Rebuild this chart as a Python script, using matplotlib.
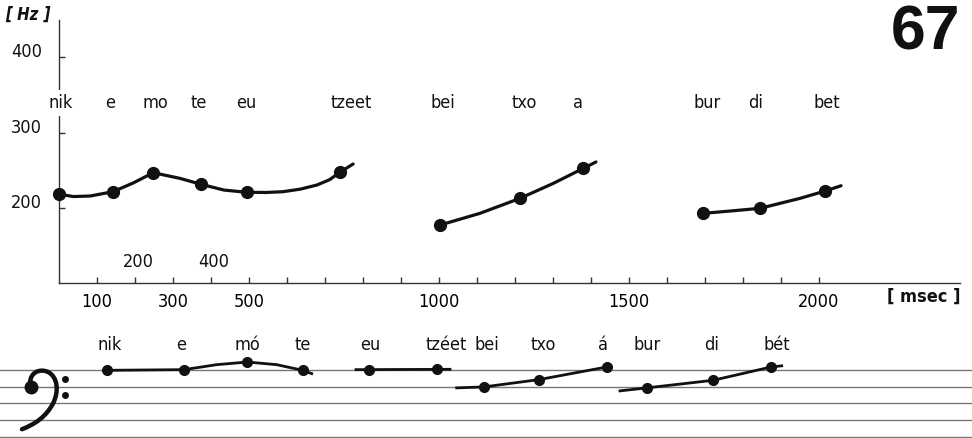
import numpy as np
import matplotlib.pyplot as plt
from matplotlib.path import Path
from matplotlib.patches import PathPatch

plt.rcParams['font.family'] = ['DejaVu Sans']
plt.rcParams['font.stretch'] = 'condensed'

# --- top chart: pitch contour (ms, Hz) ---
seg1_ms = [0, 37, 82, 142, 195, 248, 318, 374, 434, 494, 545, 589, 635, 679, 712, 739, 774]
seg1_hz = [218.5, 215.2, 215.9, 221.6, 233.1, 246.8, 239.3, 231.4, 223.8, 220.8, 220.6, 221.6, 225.0, 230.5, 237.5, 247.3, 258.3]
seg2_ms = [1003, 1108, 1213, 1301, 1380, 1413]
seg2_hz = [177.5, 193.0, 212.8, 232.7, 252.6, 261.0]
seg3_ms = [1696, 1766, 1845, 1950, 2016, 2058]
seg3_hz = [193.0, 196.0, 199.6, 212.8, 222.5, 229.5]

dot_ms = [1, 142, 248, 374, 494, 739, 1003, 1213, 1380, 1696, 1845, 2016]
dot_hz = [218.5, 221.6, 246.8, 231.4, 220.8, 247.3, 177.5, 212.8, 252.6, 193.0, 199.6, 222.5]

top_syll = ['nik', 'e', 'mo', 'te', 'eu', 'tzeet', 'bei', 'txo', 'a', 'bur', 'di', 'bet']
top_syll_ms = [5, 134, 253, 368, 492, 770, 1010, 1224, 1366, 1705, 1832, 2020]

xticks = list(range(100, 2100, 100))
xlabels_below = {100: '100', 300: '300', 500: '500', 1000: '1000', 1500: '1500', 2000: '2000'}
xlabels_above = [200, 400]
yticks = [200, 300, 400]

# --- bottom staff: notes (x position, staff step; top line = 4) ---
note_x = [106.7, 184, 247.3, 302.7, 369.3, 437.3, 484, 539, 606.7, 646.7, 713.3, 771]
note_pos = [4.0, 4.04, 4.5, 4.0, 4.04, 4.06, 3.0, 3.44, 4.2, 2.94, 3.4, 4.2]
staff_segs = [
    ([106.7, 184], [4.0, 4.04]),
    ([184, 216.7, 247.3, 276.7, 302.7, 311.7], [4.04, 4.34, 4.5, 4.34, 4.0, 3.8]),
    ([356, 450], [4.04, 4.06]),
    ([456.7, 484, 539, 606.7], [2.94, 3.0, 3.44, 4.2]),
    ([620, 646.7, 713.3, 771, 781.7], [2.76, 2.94, 3.4, 4.2, 4.27]),
]
bot_syll = ['nik', 'e', 'mó', 'te', 'eu', 'tzéet', 'bei', 'txo', 'á', 'bur', 'di', 'bét']
bot_syll_x = [110, 180.7, 247, 302.7, 370.7, 446, 487, 543, 602.7, 647, 711.7, 776.7]

W, H = 972, 438
ink = '#111111'

fig = plt.figure(figsize=(W / 100, H / 100), dpi=100)

# top axes
ax = fig.add_axes([59 / W, (H - 283) / H, (960 - 59) / W, (283 - 20) / H])
ax.set_xlim(0, 2371)
ax.set_ylim(100.7, 449)
for s in ['top', 'right']:
    ax.spines[s].set_visible(False)
for s in ['left', 'bottom']:
    ax.spines[s].set_color('#333333')
    ax.spines[s].set_linewidth(1.0)

ax.set_xticks(xticks)
ax.set_xticklabels([xlabels_below.get(t, '') for t in xticks], fontsize=13)
ax.tick_params(axis='x', direction='in', length=4, width=1, color='#333333', pad=7)
ax.set_yticks(yticks)
ax.set_yticklabels([])
ax.tick_params(axis='y', direction='in', length=4, width=1, color='#333333')

for v in yticks:
    ax.annotate(str(v), xy=(0, v), xycoords=('axes fraction', 'data'),
                xytext=(-17, 0), textcoords='offset pixels',
                ha='right', va='baseline', fontsize=13, color=ink)
for v in xlabels_above:
    ax.annotate(str(v), xy=(v, 0), xycoords=('data', 'axes fraction'),
                xytext=(3, 21), textcoords='offset pixels',
                ha='center', va='center', fontsize=13, color=ink)

for xs, ys in [(seg1_ms, seg1_hz), (seg2_ms, seg2_hz), (seg3_ms, seg3_hz)]:
    ax.plot(xs, ys, color=ink, lw=2.3, solid_capstyle='round',
            solid_joinstyle='round', clip_on=False)
ax.plot(dot_ms, dot_hz, 'o', color=ink, ms=8.5, clip_on=False, zorder=4)

for lab, x in zip(top_syll, top_syll_ms):
    ax.text(x, 339, lab, ha='center', va='center', fontsize=13, color=ink,
            zorder=5, bbox=dict(facecolor='white', edgecolor='none', pad=3))

fig.text(28 / W, 1 - 15 / H, '[ Hz ]', ha='center', va='center', fontsize=12,
         fontweight='bold', fontstyle='italic', color=ink)
fig.text(924 / W, 1 - 297 / H, '[ msec ]', ha='center', va='center', fontsize=13,
         fontweight='bold', color=ink)
fig.text(960 / W, 1 - 33 / H, '67', ha='right', va='center', fontsize=45,
         fontweight='heavy', family=['Liberation Sans', 'DejaVu Sans'],
         fontstretch='normal', color=ink)

# bottom staff axes
ax2 = fig.add_axes([0, 0, 1, 108 / H])
ax2.set_xlim(0, W)
ax2.set_ylim(-0.08, 6.43)
ax2.axis('off')
for k in range(5):
    ax2.axhline(k, color='#777777', lw=1.0, zorder=1)

for xs, ys in staff_segs:
    ax2.plot(xs, ys, color=ink, lw=2.0, zorder=3, solid_joinstyle='round')
ax2.plot(note_x, note_pos, 'o', color=ink, ms=7, zorder=4)
for lab, x in zip(bot_syll, bot_syll_x):
    ax2.text(x, 5.5, lab, ha='center', va='center', fontsize=13, color=ink)

# bass clef
verts = [(30, 3.2), (30, 3.9), (40, 4.12), (48, 3.9),
         (58, 3.6), (59, 2.7), (53, 2.0),
         (46, 1.2), (35, 0.75), (22, 0.45)]
codes = [Path.MOVETO] + [Path.CURVE4] * 9
ax2.add_patch(PathPatch(Path(verts, codes), facecolor='none', edgecolor=ink,
                        lw=3.2, capstyle='round', zorder=3))
ax2.plot([31], [3.0], 'o', color=ink, ms=9, zorder=3)
ax2.plot([65, 65], [3.5, 2.5], 'o', color=ink, ms=4, zorder=3)

fig.savefig('out.png', dpi=100)
